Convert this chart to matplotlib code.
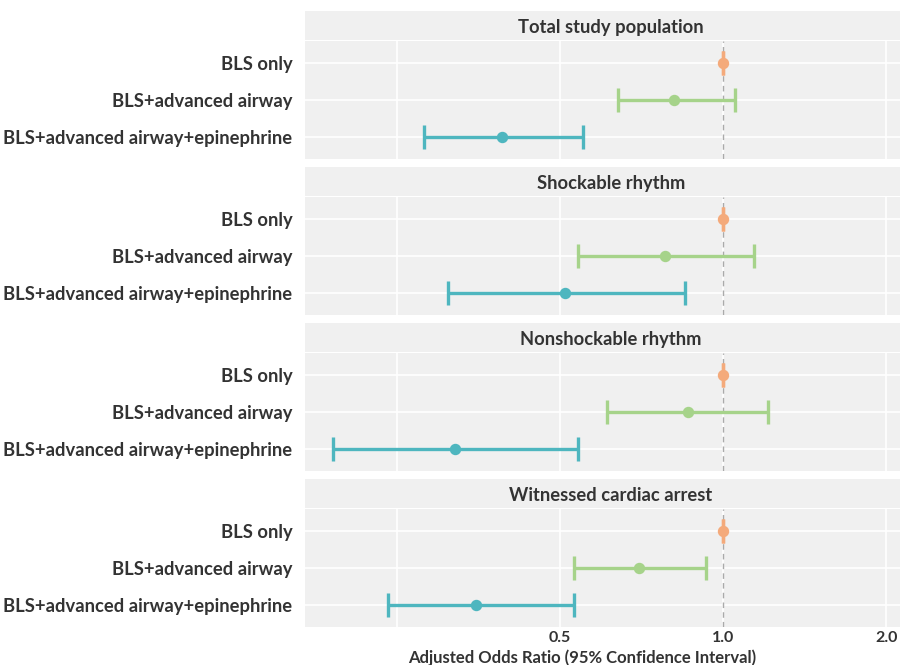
import matplotlib
matplotlib.use("Agg")
import matplotlib.pyplot as plt
from matplotlib.patches import Rectangle
from matplotlib.ticker import FixedLocator, FixedFormatter, NullLocator

plt.rcParams['font.family'] = ['Lato', 'DejaVu Sans']
plt.rcParams['font.weight'] = 'bold'

groups = ["Total study population", "Shockable rhythm",
          "Nonshockable rhythm", "Witnessed cardiac arrest"]
categories = ["BLS only", "BLS+advanced airway", "BLS+advanced airway+epinephrine"]
or_est = [[1.0, 0.81, 0.39], [1.0, 0.78, 0.51], [1.0, 0.86, 0.32], [1.0, 0.70, 0.35]]
ci_low = [[1.0, 0.64, 0.28], [1.0, 0.54, 0.31], [1.0, 0.61, 0.19], [1.0, 0.53, 0.24]]
ci_high = [[1.0, 1.05, 0.55], [1.0, 1.14, 0.85], [1.0, 1.21, 0.54], [1.0, 0.93, 0.53]]
x_ticks = [0.25, 0.5, 1.0, 2.0]
x_ticklabels = ["", "0.5", "1.0", "2.0"]
colors = ["#F4AA7B", "#A6D38A", "#4EB6BF"]

W, H = 900, 665
fig = plt.figure(figsize=(9, 6.65), dpi=100)
fig.patch.set_facecolor("white")

left_px, right_px = 305, 900
panel_tops = [41, 197, 353, 509]
panel_h = 118
strip_h = 29
txt = "#333333"

for gi, g in enumerate(groups):
    top = panel_tops[gi]
    ax = fig.add_axes([left_px / W, 1 - (top + panel_h) / H,
                       (right_px - left_px) / W, panel_h / H])
    ax.set_facecolor("#F0F0F0")
    for s in ax.spines.values():
        s.set_visible(False)
    ax.set_xscale("log", base=2)
    ax.set_xlim(0.169, 2.12)
    ax.set_ylim(2.6, -0.6)
    ax.xaxis.set_major_locator(FixedLocator(x_ticks))
    ax.xaxis.set_major_formatter(FixedFormatter(x_ticklabels))
    ax.xaxis.set_minor_locator(NullLocator())
    ax.set_yticks(range(len(categories)))
    ax.set_yticklabels(categories, fontsize=13.2, color=txt, fontweight='bold')
    ax.tick_params(axis='y', length=0, pad=9)
    ax.tick_params(axis='x', length=0, pad=3, labelsize=11.5, labelcolor=txt)
    if gi < len(groups) - 1:
        ax.tick_params(axis='x', labelbottom=False)
    ax.grid(True, color="white", linewidth=1.2)
    ax.set_axisbelow(True)
    ax.axvline(1.0, color="#AAAAAA", linestyle=(0, (4, 3)), linewidth=1.0, zorder=1)
    for ci, cat in enumerate(categories):
        est = or_est[gi][ci]
        lo = ci_low[gi][ci]
        hi = ci_high[gi][ci]
        ax.errorbar([est], [ci], xerr=[[est - lo], [hi - est]], fmt='o',
                    color=colors[ci], ecolor=colors[ci], elinewidth=2.4,
                    capsize=8.5, capthick=2.4, markersize=7.2, zorder=3)
    # strip
    fig.patches.append(Rectangle((left_px / W, 1 - (top - 1) / H),
                                 (right_px - left_px) / W, strip_h / H,
                                 transform=fig.transFigure, facecolor="#F0F0F0",
                                 edgecolor="none", zorder=0))
    fig.text(611 / W, 1 - (top + 1 - strip_h / 2) / H, g,
             ha='center', va='center', fontsize=13.2, color=txt, fontweight='bold')

fig.text(582 / W, 1 - 658 / H,
         "Adjusted Odds Ratio (95% Confidence Interval)",
         ha='center', va='center', fontsize=12, color=txt, fontweight='bold')

fig.savefig("out.png", dpi=100)
